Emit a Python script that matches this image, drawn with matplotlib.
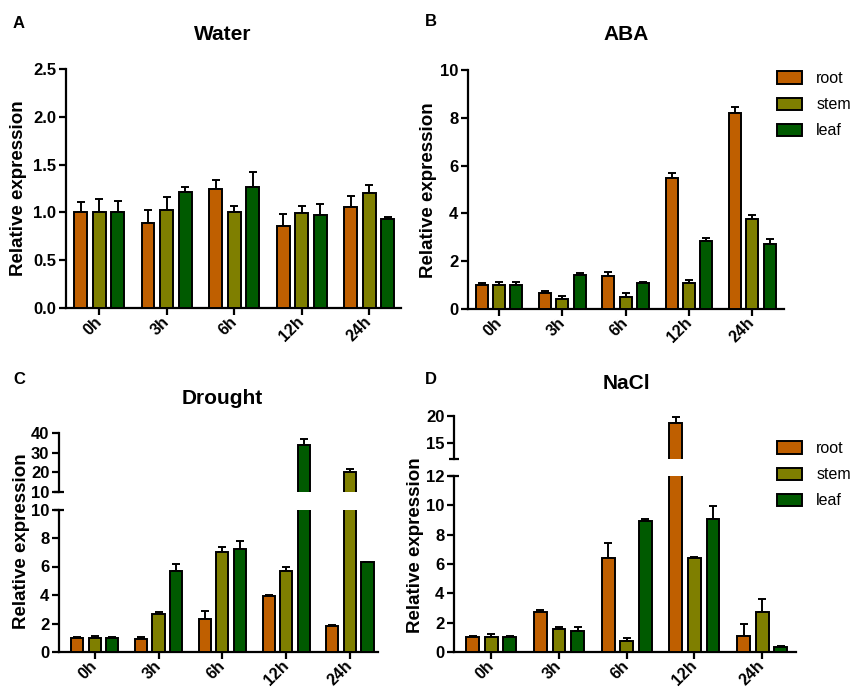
import matplotlib
matplotlib.use("Agg")
import matplotlib.pyplot as plt
from matplotlib.patches import Patch
import numpy as np

plt.rcParams['font.family'] = ['Liberation Sans', 'DejaVu Sans']

times = ["0h", "3h", "6h", "12h", "24h"]
tissues = ["root", "stem", "leaf"]
colors = ["#BF5F00", "#7F7F00", "#005A00"]

# Water
water_root = [1.0, 0.89, 1.25, 0.86, 1.06]
water_root_err = [0.11, 0.13, 0.09, 0.12, 0.11]
water_stem = [1.0, 1.02, 1.0, 0.99, 1.2]
water_stem_err = [0.14, 0.14, 0.07, 0.08, 0.09]
water_leaf = [1.0, 1.21, 1.27, 0.97, 0.93]
water_leaf_err = [0.12, 0.06, 0.15, 0.12, 0.02]

# ABA
aba_root = [1.0, 0.65, 1.4, 5.5, 8.2]
aba_root_err = [0.1, 0.1, 0.15, 0.2, 0.25]
aba_stem = [1.0, 0.42, 0.5, 1.1, 3.75]
aba_stem_err = [0.12, 0.12, 0.15, 0.12, 0.2]
aba_leaf = [1.0, 1.42, 1.07, 2.85, 2.7]
aba_leaf_err = [0.15, 0.1, 0.05, 0.1, 0.22]

# Drought
dro_root = [1.0, 0.9, 2.3, 3.9, 1.8]
dro_root_err = [0.08, 0.15, 0.6, 0.1, 0.1]
dro_stem = [1.0, 2.7, 7.0, 5.65, 20.0]
dro_stem_err = [0.1, 0.1, 0.35, 0.3, 1.5]
dro_leaf = [1.0, 5.7, 7.25, 34.0, 6.3]
dro_leaf_err = [0.08, 0.45, 0.55, 3.0, 0.03]

# NaCl
nacl_root = [1.0, 2.7, 6.4, 18.7, 1.1]
nacl_root_err = [0.1, 0.15, 1.0, 1.1, 0.8]
nacl_stem = [1.0, 1.6, 0.75, 6.4, 2.7]
nacl_stem_err = [0.2, 0.1, 0.2, 0.1, 0.9]
nacl_leaf = [1.0, 1.4, 8.9, 9.1, 0.35]
nacl_leaf_err = [0.1, 0.3, 0.2, 0.85, 0.05]

W, H = 851, 687
fig = plt.figure(figsize=(W / 100, H / 100), dpi=100)

def rect(l, r, t, b):
    return [l / W, 1 - b / H, (r - l) / W, (b - t) / H]

LW = 1.4
TICKFS = 12
XTICKFS = 11.5
BAR_W = 0.19
OFF = 0.275

def draw_bars(ax, series, errs):
    x = np.arange(len(times))
    for i, (vals, err) in enumerate(zip(series, errs)):
        xs = x + (i - 1) * OFF
        ax.errorbar(xs, vals, yerr=[np.zeros(len(err)), err], fmt='none',
                    ecolor='black', elinewidth=LW, capsize=3, capthick=LW, zorder=2)
        ax.bar(xs, vals, width=BAR_W, color=colors[i], edgecolor='black',
               linewidth=LW, zorder=3)

def style(ax, xlim):
    for s in ['top', 'right']:
        ax.spines[s].set_visible(False)
    for s in ['left', 'bottom']:
        ax.spines[s].set_linewidth(1.6)
    ax.tick_params(axis='both', width=1.6, length=5, direction='out')
    ax.tick_params(axis='y', pad=2, labelsize=TICKFS)
    for lab in ax.get_yticklabels():
        lab.set_fontweight('bold')
    ax.set_xlim(*xlim)

def set_x(ax):
    ax.set_xticks(np.arange(len(times)))
    ax.set_xticklabels(times, rotation=45, ha='right', va='center',
                       rotation_mode='anchor', fontweight='bold', fontsize=XTICKFS)
    ax.tick_params(axis='x', pad=3)

def hide_x(ax):
    ax.spines['bottom'].set_visible(False)
    ax.set_xticks([])

def cap_mark(ax, y, half_px, width_px):
    d = half_px / width_px
    ax.plot([-d, d], [y, y], transform=ax.get_yaxis_transform(),
            color='black', lw=1.6, clip_on=False, zorder=5, solid_capstyle='butt')

# ---- A: Water ----
axA = fig.add_axes(rect(66, 401, 69, 308))
draw_bars(axA, [water_root, water_stem, water_leaf],
          [water_root_err, water_stem_err, water_leaf_err])
axA.set_ylim(0, 2.5)
axA.set_yticks([0.0, 0.5, 1.0, 1.5, 2.0, 2.5])
axA.set_yticklabels(["0.0", "0.5", "1.0", "1.5", "2.0", "2.5"])
set_x(axA)
style(axA, (-0.49, 4.47))

# ---- B: ABA ----
axB = fig.add_axes(rect(468, 784, 70, 309))
draw_bars(axB, [aba_root, aba_stem, aba_leaf],
          [aba_root_err, aba_stem_err, aba_leaf_err])
axB.set_ylim(0, 10)
axB.set_yticks([0, 2, 4, 6, 8, 10])
set_x(axB)
style(axB, (-0.49, 4.5))

# ---- C: Drought (broken axis) ----
axC = fig.add_axes(rect(59, 378, 509.5, 652))
axCt = fig.add_axes(rect(59, 378, 433, 492))
for a in (axC, axCt):
    draw_bars(a, [dro_root, dro_stem, dro_leaf],
              [dro_root_err, dro_stem_err, dro_leaf_err])
axC.set_ylim(0, 10)
axC.set_yticks([0, 2, 4, 6, 8, 10])
set_x(axC)
style(axC, (-0.56, 4.44))
axCt.set_ylim(10, 40)
axCt.set_yticks([10, 20, 30, 40])
hide_x(axCt)
style(axCt, (-0.56, 4.44))
cap_mark(axC, 10, 5, 319)
cap_mark(axCt, 10, 5, 319)

# ---- D: NaCl (broken axis) ----
axD = fig.add_axes(rect(454, 796, 476, 652))
axDt = fig.add_axes(rect(454, 796, 416, 459))
for a in (axD, axDt):
    draw_bars(a, [nacl_root, nacl_stem, nacl_leaf],
              [nacl_root_err, nacl_stem_err, nacl_leaf_err])
axD.set_ylim(0, 12)
axD.set_yticks([0, 2, 4, 6, 8, 10, 12])
set_x(axD)
style(axD, (-0.55, 4.5))
axDt.set_ylim(12, 20)
axDt.set_yticks([15, 20])
hide_x(axDt)
style(axDt, (-0.55, 4.5))
cap_mark(axD, 12, 5, 342)
cap_mark(axDt, 12, 5, 342)

# ---- titles, panel letters, y labels ----
fig.text(223 / W, 1 - 35 / H, "Water", ha='center', va='center', fontsize=15, fontweight='bold')
fig.text(626 / W, 1 - 35 / H, "ABA", ha='center', va='center', fontsize=15, fontweight='bold')
fig.text(222 / W, 1 - 398 / H, "Drought", ha='center', va='center', fontsize=15, fontweight='bold')
fig.text(626 / W, 1 - 383 / H, "NaCl", ha='center', va='center', fontsize=15, fontweight='bold')

for lx, ly, t in [(19, 24, "A"), (431, 22, "B"), (19, 380, "C"), (431, 380, "D")]:
    fig.text(lx / W, 1 - ly / H, t, ha='center', va='center', fontsize=12, fontweight='bold')

for lx, ly in [(19, 188), (428, 190), (22, 541), (415, 545)]:
    fig.text(lx / W, 1 - ly / H, "Relative expression", rotation=90, ha='center',
             va='center', fontsize=13.5, fontweight='bold')

# ---- legends ----
handles = [Patch(facecolor=c, edgecolor='black', linewidth=LW, label=t)
           for c, t in zip(colors, tissues)]
for top in (71, 441):
    fig.legend(handles=handles, loc='upper left', bbox_to_anchor=(777 / W, 1 - top / H),
               frameon=False, fontsize=11.5, handlelength=1.55, handleheight=0.8,
               handletextpad=0.9, labelspacing=0.7, borderpad=0, borderaxespad=0)

fig.savefig("out.png", dpi=100)
